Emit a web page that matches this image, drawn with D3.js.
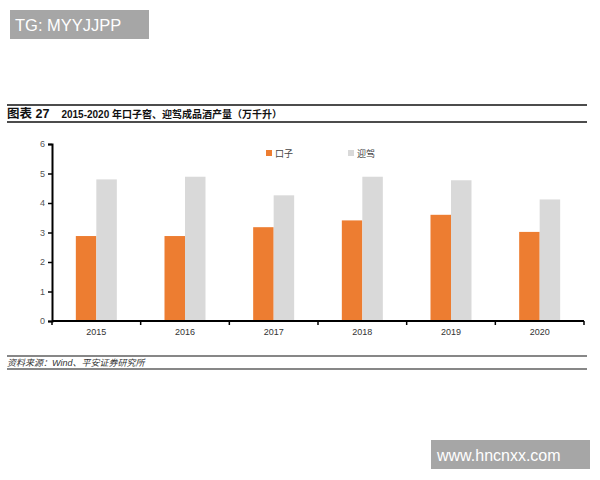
<!DOCTYPE html>
<html>
<head>
<meta charset="utf-8">
<script src="https://cdn.jsdelivr.net/npm/d3@7"></script>
<style>
  body { margin: 0; background: #fff; }
  svg { display: block; font-family: "Liberation Sans", Arial, "Noto Sans CJK SC", sans-serif; }
</style>
</head>
<body>
<div id="chart"></div>
<script>
// data
var years = ["2015", "2016", "2017", "2018", "2019", "2020"];
var kouzi = [2.88, 2.88, 3.18, 3.41, 3.6, 3.02];
var yingjia = [4.8, 4.89, 4.26, 4.89, 4.77, 4.12];
var seriesNames = ["口子", "迎驾"];
var seriesColors = ["#ed7d31", "#d9d9d9"];
var yTicks = [0, 1, 2, 3, 4, 5, 6];

var W = 600, H = 480;

var svg = d3.select("#chart").append("svg")
    .attr("width", W)
    .attr("height", H);

// watermark boxes
svg.append("rect").attr("x", 10).attr("y", 10).attr("width", 139).attr("height", 29).attr("fill", "#a6a6a6");
svg.append("text").attr("x", 15).attr("y", 31).attr("fill", "#fff")
    .attr("font-size", 16.5).text("TG: MYYJJPP");

svg.append("rect").attr("x", 431).attr("y", 440).attr("width", 159).attr("height", 29).attr("fill", "#a6a6a6");
svg.append("text").attr("x", 437).attr("y", 461).attr("fill", "#fff")
    .attr("font-size", 16).text("www.hncnxx.com");

// title block
svg.append("line").attr("x1", 7).attr("x2", 587).attr("y1", 105).attr("y2", 105)
    .attr("stroke", "#111").attr("stroke-width", 1.5);
svg.append("line").attr("x1", 7).attr("x2", 587).attr("y1", 122).attr("y2", 122)
    .attr("stroke", "#111").attr("stroke-width", 1.5);
var title = svg.append("text").attr("x", 7).attr("y", 118).attr("fill", "#111")
    .attr("font-weight", "bold");
title.append("tspan").attr("font-size", 12.5).text("图表 27");
title.append("tspan").attr("dx", 12).attr("font-size", 10).text("2015-2020 年口子窖、迎驾成品酒产量（万千升）");

// plot area
var x = d3.scaleBand().domain(years).range([52, 584]);
var y = d3.scaleLinear().domain([0, 6]).range([321, 144]);

var groupW = 41;
var sub = d3.scaleBand().domain(seriesNames).range([0, groupW]);

var data = years.map(function(yr, i) {
  return {year: yr, values: [kouzi[i], yingjia[i]]};
});

var groups = svg.selectAll("g.yr")
    .data(data)
  .enter().append("g")
    .attr("class", "yr")
    .attr("transform", function(d) {
      return "translate(" + (x(d.year) + (x.bandwidth() - groupW) / 2) + ",0)";
    });

groups.selectAll("rect")
    .data(function(d) { return d.values.map(function(v, j) { return {name: seriesNames[j], v: v, c: seriesColors[j]}; }); })
  .enter().append("rect")
    .attr("x", function(d) { return sub(d.name); })
    .attr("width", sub.bandwidth())
    .attr("y", function(d) { return y(d.v); })
    .attr("height", function(d) { return y(0) - y(d.v); })
    .attr("fill", function(d) { return d.c; });

// y axis
var yAxis = svg.append("g")
    .attr("transform", "translate(52,0)")
    .call(d3.axisLeft(y).tickValues(yTicks).tickFormat(d3.format("d")).tickSize(4).tickPadding(3));
yAxis.select(".domain").attr("stroke", "#000").attr("stroke-width", 2);
yAxis.selectAll(".tick line").attr("stroke", "#000").attr("stroke-width", 1.5);
yAxis.selectAll(".tick text").attr("fill", "#555").attr("font-size", 9);

// x axis: ticks at category boundaries
var xAxis = svg.append("g")
    .attr("transform", "translate(0,321)");
xAxis.append("line").attr("x1", 52).attr("x2", 584).attr("stroke", "#000").attr("stroke-width", 2);
var bounds = years.map(function(yr) { return x(yr); }).concat([x(years[years.length - 1]) + x.bandwidth()]);
xAxis.selectAll("line.bt").data(bounds).enter().append("line")
    .attr("class", "bt")
    .attr("x1", function(d) { return d; }).attr("x2", function(d) { return d; })
    .attr("y1", 0).attr("y2", 4)
    .attr("stroke", "#000").attr("stroke-width", 1.5);
xAxis.selectAll("text").data(years).enter().append("text")
    .attr("x", function(d) { return x(d) + x.bandwidth() / 2; })
    .attr("y", 14)
    .attr("text-anchor", "middle")
    .attr("fill", "#333")
    .attr("font-size", 9)
    .text(function(d) { return d; });

// legend
var legX = [266, 348];
var leg = svg.selectAll("g.leg").data(seriesNames).enter().append("g")
    .attr("class", "leg")
    .attr("transform", function(d, i) { return "translate(" + legX[i] + ",153)"; });
leg.append("rect").attr("x", 0).attr("y", -3).attr("width", 6).attr("height", 6)
    .attr("fill", function(d, i) { return seriesColors[i]; });
leg.append("text").attr("x", 9).attr("y", 3.5).attr("font-size", 9).attr("fill", "#444")
    .text(function(d) { return d; });

// source block
svg.append("line").attr("x1", 7).attr("x2", 587).attr("y1", 356).attr("y2", 356)
    .attr("stroke", "#111").attr("stroke-width", 1.2);
svg.append("line").attr("x1", 7).attr("x2", 587).attr("y1", 369).attr("y2", 369)
    .attr("stroke", "#111").attr("stroke-width", 1.2);
svg.append("text").attr("x", 7).attr("y", 366).attr("font-size", 9)
    .attr("font-style", "italic").attr("fill", "#333")
    .text("资料来源：Wind、平安证券研究所");
</script>
</body>
</html>
